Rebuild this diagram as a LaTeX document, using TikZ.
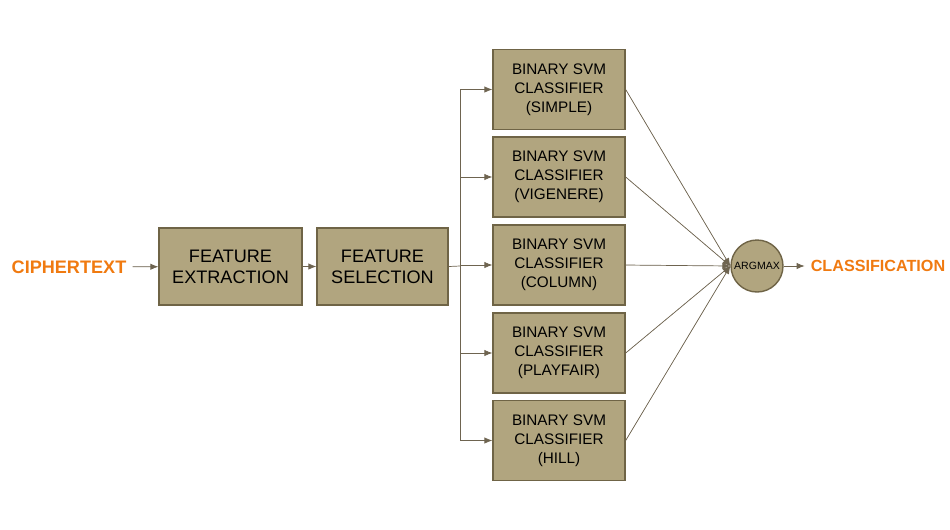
\documentclass[tikz,border=0pt]{standalone}
\usepackage{fontspec}
\setmainfont{Liberation Sans}
\usepackage{tikz}
\usetikzlibrary{calc,arrows,arrows.meta}
\definecolor{boxfill}{HTML}{B1A57F}
\definecolor{boxline}{HTML}{6F6446}
\definecolor{wire}{HTML}{6E6450}
\definecolor{label}{HTML}{F07A10}

\begin{document}
\begin{tikzpicture}[x=0.02cm,y=-0.02cm]
                      \tikzstyle{block}=[rectangle,draw=boxline,fill=boxfill,thick,align=center,inner sep=0pt]
                      \tikzstyle{svm}=[block,minimum width=2.64cm,minimum height=1.6cm,font=\fontsize{8.7pt}{10.7pt}\selectfont]
                      \tikzstyle{feat}=[block,minimum height=1.54cm,font=\fontsize{10.3pt}{12pt}\selectfont]
                      \tikzstyle{arr}=[-{Latex[length=4.5pt,width=3.6pt]},draw=wire,fill=wire]
                      \tikzstyle{tag}=[text=label,font=\bfseries\fontsize{10.3pt}{12pt}\selectfont]
                      \useasboundingbox (0,0) rectangle (950,529);
                      \node[tag] (in) at (69,267) {CIPHERTEXT};
                      \node[feat,minimum width=2.86cm] (ext) at (230.5,266.5) {FEATURE\\EXTRACTION};
                      \node[feat,minimum width=2.62cm] (sel) at (382.5,266.5) {FEATURE\\SELECTION};
                      \node[svm] (s1) at (559,89.5) {BINARY SVM\\CLASSIFIER\\(SIMPLE)};
                      \node[svm] (s2) at (559,177) {BINARY SVM\\CLASSIFIER\\(VIGENERE)};
                      \node[svm] (s3) at (559,265) {BINARY SVM\\CLASSIFIER\\(COLUMN)};
                      \node[svm] (s4) at (559,353) {BINARY SVM\\CLASSIFIER\\(PLAYFAIR)};
                      \node[svm] (s5) at (559,440.5) {BINARY SVM\\CLASSIFIER\\(HILL)};
                      \node[circle,draw=boxline,fill=boxfill,thick,minimum size=1.04cm,inner sep=0pt,font=\fontsize{6pt}{7pt}\selectfont] (arg) at (757,266) {ARGMAX};
                      \node[tag,font=\bfseries\fontsize{9.2pt}{11pt}\selectfont] (out) at (878,266) {CLASSIFICATION};
                      \coordinate (bus) at (460,266);
                      \draw[arr] (in) -- (ext);
                      \draw[arr] (ext) -- (sel);
                      \draw[draw=wire] (sel.east) -- (bus);
                      \draw[draw=wire] (bus |- s1.west) -- (bus |- s5.west);
                      \foreach \s in {s1,s2,s3,s4,s5}
                        {\draw[arr] (bus |- \s.west) -- (\s.west);
                         \draw[arr] (\s.east) -- (arg.west);}
                      \draw[arr] (arg) -- (out);
                  \end{tikzpicture}
\end{document}
